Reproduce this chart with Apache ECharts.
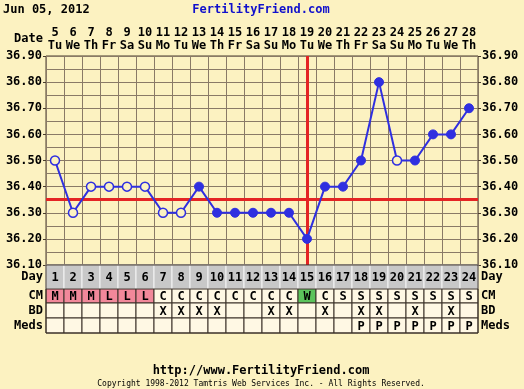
<!DOCTYPE html>
<html><head><meta charset="utf-8">
<script src="https://cdn.jsdelivr.net/npm/echarts@6/dist/echarts.min.js"></script>
<style>html,body{margin:0;padding:0;background:#FCF2C1;}#c{width:524px;height:389px;}</style>
</head><body><div id="c"></div>
<script>
const cycleDays = ['1','2','3','4','5','6','7','8','9','10','11','12','13','14','15','16','17','18','19','20','21','22','23','24'];
const dates = ['5','6','7','8','9','10','11','12','13','14','15','16','17','18','19','20','21','22','23','24','25','26','27','28'];
const weekdays = ['Tu','We','Th','Fr','Sa','Su','Mo','Tu','We','Th','Fr','Sa','Su','Mo','Tu','We','Th','Fr','Sa','Su','Mo','Tu','We','Th'];
const temps = [36.50,36.30,36.40,36.40,36.40,36.40,36.30,36.30,36.40,36.30,36.30,36.30,36.30,36.30,36.20,36.40,36.40,36.50,36.80,36.50,36.50,36.60,36.60,36.70];
const openPoint = [1,1,1,1,1,1,1,1,0,0,0,0,0,0,0,0,0,0,0,1,0,0,0,0];
const cmRow = ['M','M','M','L','L','L','C','C','C','C','C','C','C','C','W','C','S','S','S','S','S','S','S','S'];
const bdRow = ['','','','','','','X','X','X','X','','','X','X','','X','','X','X','','X','','X',''];
const medsRow = ['','','','','','','','','','','','','','','','','','P','P','P','P','P','P','P'];
const coverline = 36.35;
const ovulationDay = 15;
const yTicks = ['36.10','36.20','36.30','36.40','36.50','36.60','36.70','36.80','36.90'];

const BG = '#FCF2C1';
const FONT = 'DejaVu Sans Mono';
const BLUE = '#2F2FE0';
const chart = echarts.init(document.getElementById('c'), null, {renderer:'canvas'});

const L = 46, W = 432;
const rows = [
  {name:'Day', top:265, h:24, vals: cycleDays},
  {name:'CM', top:289, h:14, vals: cmRow},
  {name:'BD', top:303, h:15, vals: bdRow},
  {name:'Meds', top:318, h:15, vals: medsRow}
];
function cellFill(r, v){
  if (r === 0) return '#C8C8C8';
  if (r === 1) { if (v==='M'||v==='L') return '#F2889A'; if (v==='W') return '#5CC35C'; }
  return '#FFF8E4';
}
const grids = [{left:L, top:56, width:W, height:209, show:true, borderColor:'#4a3c2c', borderWidth:1, backgroundColor:BG}];
const xAxes = [{
  type:'category', gridIndex:0, data: cycleDays, position:'top', boundaryGap:true,
  axisLine:{show:false}, axisTick:{show:false},
  axisLabel:{interval:0, margin:4, color:'#000', fontFamily:FONT, fontWeight:'bold', fontSize:12, lineHeight:13,
    formatter:(v,i)=>dates[i]+'\n'+weekdays[i]},
  splitLine:{show:true, interval:0, lineStyle:{color:'#8a7a66', width:1}}
}];
const fmtY = v => { const s = v.toFixed(2); return yTicks.indexOf(s) >= 0 ? s : ''; };
const yAxes = [
  {type:'value', gridIndex:0, min:36.1, max:36.9, interval:0.1, position:'left',
   axisLine:{show:false}, axisTick:{show:true, length:3, lineStyle:{color:'#4a3c2c'}},
   axisLabel:{margin:4, color:'#000', fontFamily:FONT, fontWeight:'bold', fontSize:12, formatter:fmtY},
   splitLine:{show:true, lineStyle:{color:'#8a7a66'}},
   minorTick:{show:false, splitNumber:2}, minorSplitLine:{show:true, lineStyle:{color:'#8a7a66'}}},
  {type:'value', gridIndex:0, min:36.1, max:36.9, interval:0.1, position:'right',
   axisLine:{show:false}, axisTick:{show:true, length:3, lineStyle:{color:'#4a3c2c'}},
   axisLabel:{margin:4, color:'#000', fontFamily:FONT, fontWeight:'bold', fontSize:12, formatter:fmtY},
   splitLine:{show:false}}
];
const series = [{
  type:'line', xAxisIndex:0, yAxisIndex:0, symbol:'circle', symbolSize:9,
  lineStyle:{color:BLUE, width:2}, itemStyle:{color:BLUE},
  data: temps.map((t,i)=> openPoint[i]
    ? {value:t, itemStyle:{color:BG, borderColor:BLUE, borderWidth:1.5}}
    : {value:t, itemStyle:{color:BLUE, borderColor:BLUE, borderWidth:1}}),
  z:5,
  markLine:{silent:true, symbol:'none', label:{show:false}, animation:false,
    lineStyle:{color:'#E42424', width:3, type:'solid'},
    data:[{yAxis:coverline},{xAxis:ovulationDay-1}]}
}];
rows.forEach((r, ri) => {
  const gi = ri + 1;
  grids.push({left:L, top:r.top, width:W, height:r.h});
  xAxes.push({type:'category', gridIndex:gi, data:cycleDays, show:false});
  const yl = {type:'category', gridIndex:gi, data:[r.name], axisLine:{show:false}, axisTick:{show:false},
    axisLabel:{margin:3, color:'#000', fontFamily:FONT, fontWeight:'bold', fontSize:12}};
  yAxes.push(Object.assign({position:'left'}, yl));
  yAxes.push(Object.assign({position:'right'}, yl));
  const yIdx = yAxes.length - 2;
  series.push({
    type:'custom', coordinateSystem:'cartesian2d', xAxisIndex:gi, yAxisIndex:yIdx, silent:true, animation:false,
    data: r.vals.map((v,i)=>[i,0]),
    renderItem:(params, api)=>{
      const i = params.dataIndex;
      const c = api.coord([i, 0]);
      const s = api.size([1, 1]);
      const v = r.vals[i];
      return {type:'group', children:[
        {type:'rect', shape:{x:c[0]-s[0]/2, y:c[1]-s[1]/2, width:s[0], height:s[1]},
         style:{fill:cellFill(ri, v), stroke: ri===0 ? '#f4f4f4' : '#3a3028', lineWidth:1}},
        {type:'text', style:{text:v, x:c[0], y:c[1]+1, align:'center', verticalAlign:'middle',
         fill:'#000', font:'bold 12px ' + FONT}}
      ]};
    }
  });
});

chart.setOption({
  backgroundColor: BG,
  animation:false,
  grid: grids, xAxis: xAxes, yAxis: yAxes, series: series,
  graphic:[
    {type:'rect', shape:{x:L, y:265, width:W, height:68}, style:{fill:'none', stroke:'#3a3028', lineWidth:1}, z:100},
    {type:'text', left:3, top:4, style:{text:'Jun 05, 2012', font:'bold 12px '+FONT, fill:'#000'}},
    {type:'text', x:261, y:10, style:{text:'FertilityFriend.com', font:'bold 12px '+FONT, fill:'#1010CC', align:'center', verticalAlign:'middle'}},
    {type:'text', x:43, y:39, style:{text:'Date', font:'bold 12px '+FONT, fill:'#000', align:'right', verticalAlign:'middle'}},
    {type:'text', x:261, y:371, style:{text:'http://www.FertilityFriend.com', font:'bold 12px '+FONT, fill:'#000', align:'center', verticalAlign:'middle'}},
    {type:'text', x:261, y:384, style:{text:'Copyright 1998-2012 Tamtris Web Services Inc. - All Rights Reserved.', font:'8px '+FONT, fill:'#000', align:'center', verticalAlign:'middle'}}
  ]
});
</script></body></html>
